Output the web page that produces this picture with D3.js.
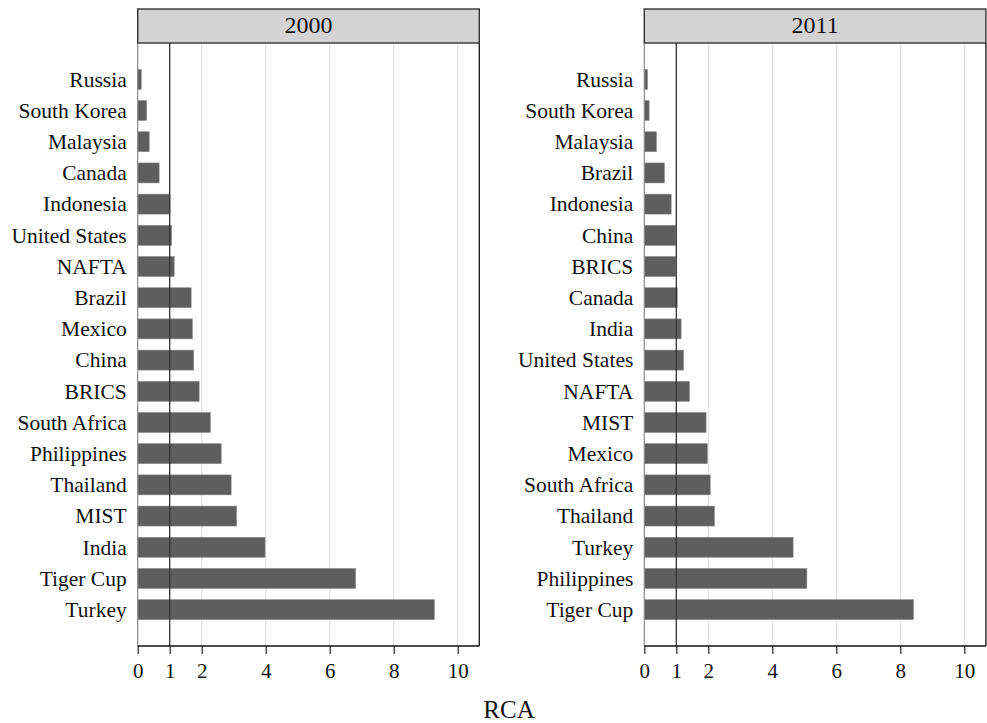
<!DOCTYPE html>
<html>
<head>
<meta charset="utf-8">
<script src="https://cdn.jsdelivr.net/npm/d3@7"></script>
<style>
  html, body { margin: 0; padding: 0; background: #fff; }
  svg { display: block; }
  text { font-family: "Liberation Serif", "Times New Roman", serif; fill: #111; }
</style>
</head>
<body>
<svg id="chart" width="987" height="723"></svg>
<script>
// RCA by country/group, two years, ordered top to bottom
const countries2000 = ["Russia", "South Korea", "Malaysia", "Canada", "Indonesia", "United States",
  "NAFTA", "Brazil", "Mexico", "China", "BRICS", "South Africa", "Philippines", "Thailand",
  "MIST", "India", "Tiger Cup", "Turkey"];
const rca2000 = [0.11, 0.28, 0.36, 0.67, 1.01, 1.06, 1.14, 1.67, 1.71, 1.75, 1.92, 2.27, 2.61,
  2.92, 3.09, 3.98, 6.81, 9.27];

const countries2011 = ["Russia", "South Korea", "Malaysia", "Brazil", "Indonesia", "China",
  "BRICS", "Canada", "India", "United States", "NAFTA", "MIST", "Mexico", "South Africa",
  "Thailand", "Turkey", "Philippines", "Tiger Cup"];
const rca2011 = [0.10, 0.15, 0.38, 0.63, 0.84, 0.98, 0.98, 1.03, 1.15, 1.23, 1.41, 1.93, 1.97,
  2.06, 2.19, 4.65, 5.08, 8.41];

const tickValues = [0, 1, 2, 4, 6, 8, 10];
const referenceValue = 1;
const gridValues = [2, 4, 6, 8, 10];
const axisTitle = "RCA";

const panels = [
  { title: "2000", names: countries2000, values: rca2000, left: 137.7 },
  { title: "2011", names: countries2011, values: rca2011, left: 644.3 }
];

const svg = d3.select("#chart");
const panelW = 341.6, plotTop = 43, plotBottom = 646, stripTop = 9;
const xMax = 10.675;

panels.forEach(p => {
  const g = svg.append("g").attr("transform", `translate(${p.left},0)`);
  const x = d3.scaleLinear().domain([0, xMax]).range([0, panelW]);
  const y = d3.scaleBand().domain(p.names).range([plotTop, plotBottom])
    .paddingInner(0.36).paddingOuter(0.845);

  // grid
  g.selectAll("line.grid").data(gridValues).join("line")
    .attr("class", "grid")
    .attr("x1", d => x(d)).attr("x2", d => x(d))
    .attr("y1", plotTop).attr("y2", plotBottom)
    .attr("stroke", "#e4e4e4").attr("stroke-width", 1.2);

  // bars
  g.selectAll("rect.bar").data(p.values).join("rect")
    .attr("class", "bar")
    .attr("x", x(0))
    .attr("y", (d, i) => y(p.names[i]))
    .attr("width", d => x(d) - x(0))
    .attr("height", y.bandwidth())
    .attr("fill", "#5e5e5e")
    .attr("stroke", "#8a8a8a").attr("stroke-width", 0.6);

  // reference line at RCA = 1
  g.append("line")
    .attr("x1", x(referenceValue)).attr("x2", x(referenceValue))
    .attr("y1", plotTop).attr("y2", plotBottom)
    .attr("stroke", "#333").attr("stroke-width", 1.3);

  // panel frame: left edge gray, right edge dark
  g.append("line").attr("x1", 0).attr("x2", 0).attr("y1", plotTop).attr("y2", plotBottom)
    .attr("stroke", "#8c8c8c").attr("stroke-width", 1.2);
  g.append("line").attr("x1", panelW).attr("x2", panelW).attr("y1", plotTop).attr("y2", plotBottom)
    .attr("stroke", "#222").attr("stroke-width", 1.4);

  // strip header
  g.append("rect")
    .attr("x", 0).attr("y", stripTop)
    .attr("width", panelW).attr("height", plotTop - stripTop)
    .attr("fill", "#d3d3d3").attr("stroke", "#333").attr("stroke-width", 1.4);
  g.append("text")
    .attr("x", panelW / 2).attr("y", 33)
    .attr("text-anchor", "middle")
    .attr("font-size", 24)
    .text(p.title);

  // category labels
  g.selectAll("text.cat").data(p.names).join("text")
    .attr("class", "cat")
    .attr("x", -11)
    .attr("y", d => y(d) + y.bandwidth() / 2)
    .attr("dy", "0.34em")
    .attr("text-anchor", "end")
    .attr("font-size", 21.5)
    .text(d => d);

  // x axis
  const axis = g.append("g")
    .attr("transform", `translate(0,${plotBottom})`)
    .call(d3.axisBottom(x).tickValues(tickValues).tickSize(8).tickPadding(9).tickFormat(d3.format("d")));
  axis.select(".domain").attr("stroke", "#111").attr("stroke-width", 1.4).attr("d", `M0,0H${panelW}`);
  axis.selectAll(".tick line").attr("stroke", "#222").attr("stroke-width", 1.2);
  axis.selectAll(".tick text")
    .attr("font-size", 21)
    .attr("font-family", "'Liberation Serif', 'Times New Roman', serif")
    .attr("fill", "#111");
});

svg.append("text")
  .attr("x", 509).attr("y", 718)
  .attr("text-anchor", "middle")
  .attr("font-size", 25)
  .text(axisTitle);
</script>
</body>
</html>
